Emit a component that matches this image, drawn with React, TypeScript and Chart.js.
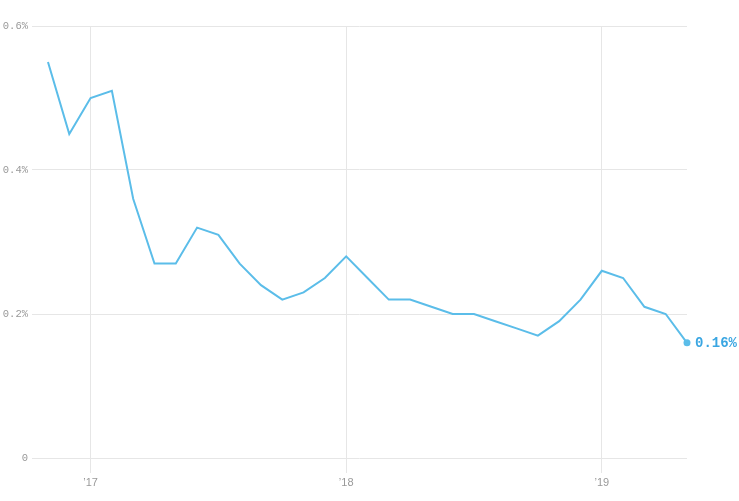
import React, { useEffect, useRef } from "react";
import { Chart, registerables } from "chart.js";

Chart.register(...registerables);

// monthly, Nov 2016 .. May 2019
const months = [
  "2016-11", "2016-12",
  "2017-01", "2017-02", "2017-03", "2017-04", "2017-05", "2017-06",
  "2017-07", "2017-08", "2017-09", "2017-10", "2017-11", "2017-12",
  "2018-01", "2018-02", "2018-03", "2018-04", "2018-05", "2018-06",
  "2018-07", "2018-08", "2018-09", "2018-10", "2018-11", "2018-12",
  "2019-01", "2019-02", "2019-03", "2019-04", "2019-05",
];
const rates = [
  0.55, 0.45,
  0.5, 0.51, 0.36, 0.27, 0.27, 0.32, 0.31, 0.27, 0.24, 0.22, 0.23, 0.25,
  0.28, 0.25, 0.22, 0.22, 0.21, 0.2, 0.2, 0.19, 0.18, 0.17, 0.19, 0.22,
  0.26, 0.25, 0.21, 0.2, 0.16,
];
const yearTicks = [2, 14, 26];
const yearLabels = ["\u201917", "\u201918", "\u201919"];
const yTicks = [0, 0.2, 0.4, 0.6];

const LINE = "#5bbde9";
const LABEL = "#3aa6e2";
const GRID = "#e6e6e6";
const TICK_TEXT = "#999999";

const endLabel = {
  id: "endLabel",
  afterDatasetsDraw(chart: any) {
    const meta = chart.getDatasetMeta(0);
    const pt = meta.data[meta.data.length - 1];
    if (!pt) return;
    const ctx = chart.ctx;
    ctx.save();
    ctx.font = "bold 14px 'Liberation Mono', monospace";
    ctx.fillStyle = LABEL;
    ctx.textAlign = "left";
    ctx.textBaseline = "middle";
    ctx.fillText(rates[rates.length - 1] + "%", pt.x + 8, pt.y + 1);
    ctx.restore();
  },
};

const App: React.FC = () => {
  const canvasRef = useRef<HTMLCanvasElement | null>(null);
  const chartRef = useRef<Chart | null>(null);

  useEffect(() => {
    if (!canvasRef.current) return;
    const ctx = canvasRef.current.getContext("2d");
    if (!ctx) return;
    if (chartRef.current) chartRef.current.destroy();

    const last = rates.length - 1;

    chartRef.current = new Chart(ctx, {
      type: "line",
      data: {
        labels: months,
        datasets: [
          {
            data: rates.map((v, i) => ({ x: i, y: v })),
            borderColor: LINE,
            backgroundColor: LINE,
            borderWidth: 2,
            tension: 0,
            clip: false,
            pointRadius: (c: any) => (c.dataIndex === last ? 3.5 : 0),
            pointBorderWidth: 0,
            pointBackgroundColor: LINE,
          },
        ],
      },
      options: {
        animation: false,
        responsive: true,
        maintainAspectRatio: false,
        layout: { padding: { top: 26, right: 52, left: 0, bottom: 0 } },
        plugins: {
          legend: { display: false },
          tooltip: { enabled: false },
        },
        scales: {
          x: {
            type: "linear",
            min: -0.75,
            max: last,
            afterBuildTicks: (scale: any) => {
              scale.ticks = yearTicks.map((v) => ({ value: v }));
            },
            afterFit: (scale: any) => {
              scale.height = 43;
            },
            grid: {
              color: GRID,
              tickColor: GRID,
              tickLength: 15,
              drawTicks: true,
            },
            border: { display: false },
            ticks: {
              autoSkip: false,
              maxRotation: 0,
              padding: 3,
              color: TICK_TEXT,
              font: { family: "'Liberation Sans', Arial, sans-serif", size: 11 },
              callback: (v: any) => {
                const i = yearTicks.indexOf(Number(v));
                return i >= 0 ? yearLabels[i] : "";
              },
            },
          },
          y: {
            min: 0,
            max: 0.6,
            afterBuildTicks: (scale: any) => {
              scale.ticks = yTicks.map((v) => ({ value: v }));
            },
            afterFit: (scale: any) => {
              scale.width = 32;
            },
            grid: { color: GRID, drawTicks: false },
            border: { display: false },
            ticks: {
              padding: 4,
              color: TICK_TEXT,
              font: { family: "'Liberation Mono', monospace", size: 10.5 },
              callback: (v: any) => (Number(v) === 0 ? "0" : Number(v).toFixed(1) + "%"),
            },
          },
        },
      },
      plugins: [endLabel],
    } as any);

    return () => {
      if (chartRef.current) {
        chartRef.current.destroy();
        chartRef.current = null;
      }
    };
  }, []);

  return (
    <div
      style={{
        position: "absolute",
        left: 0,
        top: 0,
        width: 739,
        height: 501,
        background: "#fff",
      }}
    >
      <canvas ref={canvasRef}></canvas>
    </div>
  );
};

export default App;
